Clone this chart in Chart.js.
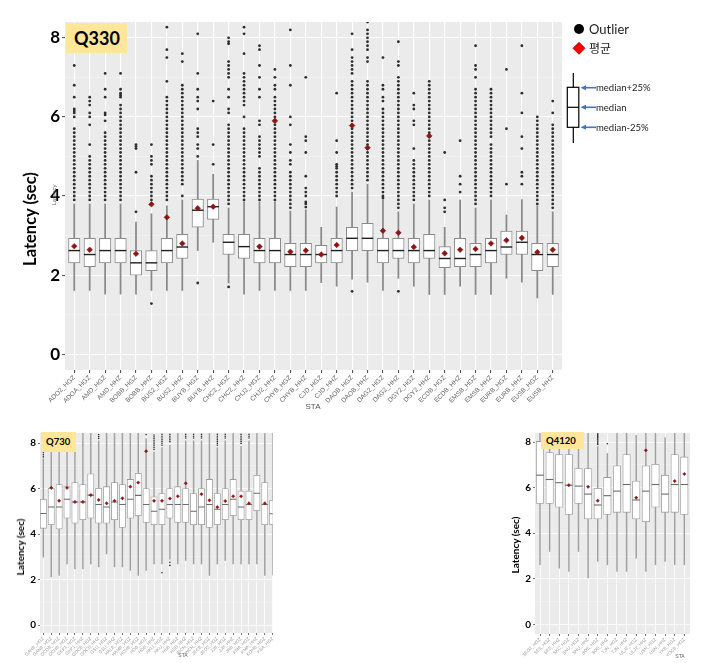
<!DOCTYPE html>
<html><head><meta charset="utf-8">
<script src="https://cdn.jsdelivr.net/npm/chart.js@4.4.1/dist/chart.umd.min.js"></script>
<style>
html,body{margin:0;padding:0;background:#fff;width:710px;height:663px;overflow:hidden;position:relative;font-family:'Liberation Sans',Arial,sans-serif}
canvas{position:absolute;display:block}
.t{position:absolute;white-space:nowrap;line-height:1}
.rot{transform:translate(-50%,-50%) rotate(-90deg)}
.ctr{transform:translate(-50%,-50%)}
.qbox{position:absolute;background:#FFE699;font-family:Lato,'Open Sans',sans-serif;font-weight:bold;color:#000;box-sizing:border-box}
svg{position:absolute;left:0;top:0}
</style></head><body>
<canvas id="c330" width="710" height="420" style="left:0;top:0;width:710px;height:420px"></canvas>
<canvas id="c730" width="285" height="238" style="left:0;top:425px;width:285px;height:238px"></canvas>
<canvas id="c4120" width="215" height="238" style="left:495px;top:425px;width:215px;height:238px"></canvas>

<div class="qbox" style="left:66px;top:23px;width:61px;height:30px;font-size:18px;line-height:30px;padding-left:8px">Q330</div>
<div class="t rot" style="left:30px;top:219px;font-family:Lato,sans-serif;font-weight:bold;font-size:16.5px;color:#000">Latency (sec)</div>
<div class="t rot" style="left:54px;top:195px;font-size:6px;color:#666">Latency</div>
<div class="t ctr" style="left:313px;top:407px;font-size:8px;color:#555">STA</div>

<div class="qbox" style="left:41px;top:432px;width:35px;height:20px;font-size:9.5px;line-height:20px;padding-left:5px">Q730</div>
<div class="t rot" style="left:20px;top:547px;font-family:Lato,sans-serif;font-weight:bold;font-size:10px;color:#000">Latency (sec)</div>
<div class="t ctr" style="left:183px;top:655px;font-size:5px;color:#666">STA</div>

<div class="qbox" style="left:541px;top:432px;width:43px;height:17px;font-size:9.5px;line-height:17px;padding-left:5px">Q4120</div>
<div class="t rot" style="left:515px;top:545px;font-family:Lato,sans-serif;font-weight:bold;font-size:10px;color:#000">Latency (sec)</div>
<div class="t ctr" style="left:680px;top:656px;font-size:5px;color:#666">STA</div>

<svg width="710" height="663" viewBox="0 0 710 663">
  <circle cx="579" cy="29" r="5" fill="#000"/>
  <text x="589" y="34" font-family="Lato, sans-serif" font-size="13" fill="#222">Outlier</text>
  <polygon points="579,42.3 585,48.3 579,54.3 573,48.3" fill="#ff0000" stroke="#8b0000" stroke-width="0.8"/>
  <text x="589" y="53" font-family="'Noto Sans CJK KR', sans-serif" font-size="12" fill="#222">평균</text>
  <line x1="573.3" y1="73" x2="573.3" y2="143" stroke="#000" stroke-width="1.2"/>
  <rect x="567.3" y="87.3" width="11.5" height="40" fill="#fff" stroke="#000" stroke-width="1.2"/>
  <line x1="567.3" y1="107.3" x2="578.8" y2="107.3" stroke="#000" stroke-width="1.2"/>
  <g stroke="#4472C4" stroke-width="1.6">
    <line x1="584" y1="87.7" x2="596" y2="87.7"/>
    <line x1="584" y1="107.3" x2="596" y2="107.3"/>
    <line x1="584" y1="127.3" x2="596" y2="127.3"/>
  </g>
  <g fill="#4472C4">
    <polygon points="580.5,87.7 586,85.2 586,90.2"/>
    <polygon points="580.5,107.3 586,104.8 586,109.8"/>
    <polygon points="580.5,127.3 586,124.8 586,129.8"/>
  </g>
  <g font-family="Lato, sans-serif" font-size="9.5" fill="#222">
    <text x="596" y="91">median+25%</text>
    <text x="596" y="110.6">median</text>
    <text x="596" y="130.6">median-25%</text>
  </g>
</svg>

<script>
// ---------------- Q330 ----------------
const labels330 = ['ADO2_HGZ','ADOA_HGZ','AMD_HGZ','AMD_HHZ','BOBB_HGZ','BOBB_HHZ','BUS2_HGZ','BUS2_HHZ','BUYB_HGZ','BUYB_HHZ','CHC2_HGZ','CHC2_HHZ','CHJ2_HGZ','CHJ2_HHZ','CHYB_HGZ','CHYB_HHZ','CJD_HGZ','CJD_HHZ','DAOB_HGZ','DAOB_HHZ','DAG2_HGZ','DAG2_HHZ','DGY2_HGZ','DGY2_HHZ','ECDB_HGZ','ECDB_HHZ','EMSB_HGZ','EMSB_HHZ','EURB_HGZ','EURB_HHZ','EUSB_HGZ','EUSB_HHZ'];
const q1_330 = [2.31,2.21,2.31,2.31,2.0,2.11,2.31,2.42,3.21,3.41,2.52,2.42,2.31,2.31,2.21,2.21,2.31,2.31,2.62,2.62,2.31,2.42,2.31,2.42,2.19,2.21,2.21,2.31,2.52,2.52,2.11,2.21];
const med330 = [2.62,2.52,2.62,2.62,2.31,2.31,2.62,2.71,3.64,3.73,2.83,2.72,2.62,2.62,2.52,2.52,2.52,2.62,2.93,2.93,2.62,2.62,2.62,2.62,2.42,2.42,2.52,2.62,2.71,2.83,2.52,2.52];
const q3_330 = [2.93,2.93,2.93,2.93,2.62,2.62,2.93,3.03,3.92,3.92,3.03,3.03,2.93,2.93,2.8,2.8,2.75,2.93,3.21,3.31,2.93,2.93,2.93,3.03,2.72,2.93,2.8,2.93,3.11,3.11,2.8,2.8];
const lo330 = [1.61,1.61,1.52,1.52,1.52,1.61,1.61,1.61,2.62,2.83,1.8,1.52,1.61,1.61,1.61,1.61,1.81,1.72,1.9,1.82,1.61,1.92,1.72,1.51,1.51,1.72,1.51,1.51,1.92,1.82,1.42,1.51];
const hi330 = [3.8,3.8,3.8,3.8,3.34,3.55,3.75,3.9,4.9,4.55,3.7,3.85,3.85,3.85,3.62,3.65,3.21,3.72,4.1,4.3,3.9,3.6,3.8,3.9,3.21,3.9,3.7,3.9,3.52,3.91,3.75,3.6];
const mean330 = [2.73,2.64,null,null,2.54,3.79,3.46,2.8,3.69,3.73,null,null,2.72,5.9,2.59,2.62,2.52,2.76,5.78,5.22,3.12,3.07,2.71,5.52,2.55,2.64,2.66,2.8,2.88,2.94,2.58,2.64];
const out330 = [
  [7.3,6.8,6.5,6.2,6.15,6.1,6.0,5.7,5.6,5.5,5.4,5.3,5.2,5.1,5.0,4.9,4.8,4.7,4.6,4.5,4.4,4.3,4.2,4.1,4.0,3.9],
  [6.5,6.4,6.3,6.1,6.0,5.8,5.3,5.0,4.9,4.8,4.7,4.6,4.5,4.4,4.3,4.2,4.1,4.0,3.9],
  [7.1,6.7,6.5,6.1,6.05,5.9,5.6,5.5,5.4,5.3,5.2,5.1,5.0,4.9,4.8,4.7,4.6,4.5,4.4,4.3,4.2,4.1,4.0,3.9],
  [7.1,6.7,6.6,6.55,6.5,6.3,6.2,6.1,6.0,5.9,5.8,5.7,5.6,5.5,5.4,5.3,5.2,5.1,5.0,4.9,4.8,4.7,4.6,4.5,4.4,4.3,4.2,4.1,4.0,3.9],
  [5.3,5.25,5.2,4.6,3.6],
  [5.3,5.0,4.9,4.8,4.5,4.4,4.3,4.2,4.1,4.0,3.9,1.28],
  [8.27,7.7,7.5,6.9,6.5,6.4,6.3,6.2,6.1,6.0,5.9,5.8,5.7,5.6,5.5,5.4,5.3,5.2,5.1,5.0,4.9,4.8,4.7,4.6,4.5,4.4,4.3,4.2,4.1,4.0,3.9],
  [7.6,7.4,6.8,6.7,6.6,6.5,6.4,6.3,6.2,6.1,6.0,5.9,5.8,5.7,5.6,5.5,5.4,5.3,5.2,5.1,5.0,4.9,4.8,4.7,4.6,4.5,4.4,4.3,4.0],
  [8.1,7.1,6.7,6.5,6.4,6.2,5.7,5.6,5.5,5.3,5.2,5.0,1.8],
  [6.4,5.3,4.8],
  [8.0,7.9,7.85,7.4,7.3,7.2,7.1,7.0,6.7,6.5,6.2,6.1,5.8,5.7,5.6,5.5,5.4,5.3,5.2,5.1,5.0,4.9,4.8,4.7,4.6,4.5,4.4,4.3,4.2,4.1,4.0,3.9,3.8,1.7],
  [8.27,8.1,7.6,7.1,7.0,6.9,6.8,6.7,6.6,6.5,6.4,6.3,6.0,5.7,5.6,5.5,5.4,5.3,5.2,5.1,5.0,4.9,4.8,4.7,4.6,4.5,4.4,4.3,4.2,4.1,4.0,3.9],
  [7.8,7.7,7.3,7.0,6.7,6.5,5.9,5.8,5.5,5.4,5.3,5.2,5.1,5.0,4.7,4.6,4.5,4.4,4.3,4.2,4.1,4.0,3.9],
  [7.2,7.0,6.8,6.7,6.5,6.4,6.3,6.2,6.1,6.0,5.9,5.8,5.7,5.6,5.5,5.4,5.3,5.2,5.1,5.0,4.9,4.8,4.7,4.6,4.5,4.4,4.3,4.2,4.1,4.0,3.9],
  [8.2,7.3,6.8,6.0,5.8,5.3,5.1,4.9,4.8,4.6,4.5,4.4,4.3,4.2,4.1,4.0,3.9,3.8,3.7],
  [7.0,5.5,5.4,5.1,4.5,4.2,4.1,4.0,3.85,3.8,3.72],
  [],
  [6.6,5.4,5.1,4.8,4.75,4.7,4.6,4.5,4.4,4.3,4.2,4.1,4.0],
  [8.1,7.7,7.5,7.4,7.3,7.2,7.1,6.9,6.8,6.7,6.6,6.5,6.4,6.3,6.2,6.1,6.0,5.9,5.8,5.7,5.6,5.5,5.4,5.3,5.2,5.1,5.0,4.9,4.8,4.7,4.6,4.5,4.4,4.3,4.2,1.59],
  [8.4,8.2,8.1,8.0,7.9,7.8,7.7,7.5,7.4,6.9,6.8,6.7,6.6,6.5,6.4,6.3,6.2,6.1,6.0,5.9,5.8,5.7,5.6,5.5,5.4,5.3,5.2,5.1,5.0,4.9,4.8,4.7,4.6,4.5,4.4],
  [7.5,6.8,6.7,6.5,6.4,6.2,6.1,6.0,5.9,5.8,5.7,5.6,5.5,5.4,5.3,5.2,5.1,5.0,4.9,4.8,4.7,4.6,4.5,4.4,4.3,4.2,4.1,4.0,3.95],
  [7.9,7.4,7.3,7.0,6.9,6.8,6.7,6.6,6.5,6.4,6.3,6.2,6.1,6.0,5.9,5.8,5.7,5.6,5.5,5.4,5.3,5.2,5.1,5.0,4.9,4.8,4.7,4.6,4.5,4.4,4.3,4.2,4.1,4.0,3.9,3.8,3.7,1.59],
  [6.6,6.3,6.2,5.9,5.8,5.2,4.9,4.8,4.7,4.6,4.5,4.4,4.3,4.2,4.1,4.0,3.9],
  [6.9,6.8,6.7,6.6,6.5,6.4,6.3,6.2,6.1,6.0,5.9,5.8,5.7,5.6,5.5,5.4,5.3,5.2,5.1,5.0,4.9,4.8,4.7,4.6,4.5,4.4,4.3,4.2,4.1,4.0],
  [5.1,3.9,3.7,3.6],
  [5.4,4.5,4.3,4.1],
  [7.8,7.3,7.2,7.0,6.7,6.6,6.5,6.4,6.3,6.2,6.1,6.0,5.9,5.8,5.7,5.6,5.5,5.4,5.3,5.2,5.1,5.0,4.9,4.8,4.7,4.6,4.5,4.4,4.3,4.2,4.1,4.0,3.9,3.8],
  [6.7,6.6,6.5,6.4,6.3,6.2,6.1,6.0,5.9,5.8,5.7,5.6,5.5,5.3,5.2,5.1,5.0,4.9,4.8,4.7,4.6,4.5,4.4,4.3,4.2,4.1,4.0],
  [7.2,5.7,4.3],
  [7.8,6.6,6.1,5.5,5.2,4.6,4.5,4.3],
  [6.0,5.9,5.8,5.7,5.6,5.5,5.4,5.3,5.2,5.1,5.0,4.9,4.8,4.7,4.6,4.5,4.4,4.3,4.2,4.1,4.0,3.9,3.8],
  [6.4,6.1,5.8,5.7,5.6,5.5,5.4,5.3,5.2,5.1,5.0,4.9,4.8,4.7,4.6,4.5,4.4,4.3,4.2,4.1,4.0,3.9,3.8,3.7]
];

// ---------------- Q730 ----------------
const labels730 = ['GAHB_HGZ','GANB_HGZ','GCDB_HGZ','GCHB_HGZ','GKP1_HGZ','GKP1_HHZ','GOCB_HGZ','GOCB_HHZ','GSU_HGZ','GSU_HHZ','HALB_HGZ','HAMB_HGZ','HCHB_HGZ','HDB_HGZ','HDB_HHZ','HKU_HGZ','HKU_HHZ','HSB_HGZ','HSB_HHZ','INCN_HGZ','INCN_HHZ','JECB_HGZ','JEO2_HGZ','JJB_HGZ','JJB_HHZ','JRB_HGZ','KMA_HGZ','KMA_HHZ','KOHB_HGZ','KSA_HGZ'];
const q1_730 = [4.25,4.41,4.22,4.70,4.48,4.63,4.70,4.48,4.48,4.63,4.29,4.70,4.80,4.51,4.41,4.41,4.70,4.51,4.51,4.41,4.41,4.29,4.41,4.63,4.80,4.63,4.63,5.02,4.41,4.41];
const med730 = [4.9,5.19,5.19,5.53,5.41,5.41,5.71,5.3,5.19,5.41,5.3,5.53,5.7,5.3,5.0,5.09,5.3,5.3,5.3,5.0,5.19,5.3,5.09,5.3,5.53,5.19,5.3,5.79,5.3,4.89];
const q3_730 = [5.53,6.01,6.17,6.11,6.26,6.17,6.65,6.01,6.08,6.26,6.17,6.4,6.67,6.0,5.64,5.78,6.0,6.08,6.0,5.78,6.0,6.4,5.78,6.0,6.4,5.89,5.89,6.58,6.26,5.48];
const lo730 = [2.98,2.11,2.18,2.69,2.47,2.47,2.69,2.55,3.13,2.55,2.55,2.4,2.18,2.4,2.69,2.69,2.9,2.69,2.84,2.69,2.69,2.18,2.69,2.84,2.69,2.69,2.69,2.69,2.18,2.2];
const hi730 = [7.3,8.6,8.6,8.6,8.6,8.6,8.6,8.1,8.6,8.6,8.6,8.6,8.6,8.2,7.6,7.8,7.9,8.6,8.1,8.1,8.1,8.6,7.8,8.1,8.6,7.85,8.1,8.6,8.6,8.6];
const mean730 = [null,6.03,5.46,6.03,5.41,5.41,5.71,5.5,5.35,5.46,5.57,6.08,6.26,7.64,5.46,5.46,5.56,5.66,6.23,null,5.75,5.48,5.18,5.45,5.66,5.66,5.35,null,5.35,null];
const out730 = [
  [7.57,7.48,7.39],[],[],[],[],[],[],[8.37,8.28,8.2],[],[],[],[],[],[8.37],
  [8.35,8.27,8.2,8.12,8.04,7.96,7.88,7.8,7.72],
  [8.38,8.3,8.22,8.14,8.06,7.98,7.9,2.3],
  [8.38,8.3,8.22,8.14,8.06,2.76,2.62],
  [],[8.38,8.3,8.22],[8.38,8.3,8.22],[8.38,8.3,8.22],[],
  [8.38,8.3,8.22,8.14,8.06,7.98,7.9],
  [8.38,8.3,8.22],[],
  [8.38,8.3,8.22,8.14,8.06,7.98],
  [8.38,8.3,8.22],[],[],[]
];

// ---------------- Q4120 ----------------
const labels4120 = ['SEO2_HGZ','SES_HGZ','SES_HHZ','SKC_HGZ','SNU_HGZ','SNU_HHZ','SOS_HGZ','SOS_HHZ','TJN_HGZ','TJN_HHZ','ULJ2_HGZ','ULJ2_HHZ','USN_HGZ','USN_HHZ','YKB_HGZ','YOCB_HGZ'];
const q1_4120 = [5.31,5.31,5.14,4.83,5.31,4.63,4.63,4.83,4.92,4.92,4.63,4.51,5.14,4.92,4.92,4.83];
const med4120 = [6.55,6.36,6.22,6.11,6.07,5.72,5.24,5.65,5.85,6.14,5.46,5.85,6.14,5.72,6.14,6.14];
const q3_4120 = [8.03,7.54,7.45,7.45,6.84,6.84,5.97,6.45,6.96,7.45,6.29,6.96,7.03,6.55,7.45,7.35];
const lo4120 = [2.62,3.2,2.47,2.33,3.2,2.04,2.76,2.62,2.33,2.33,2.91,2.33,2.62,2.76,2.62,2.62];
const hi4120 = [8.6,8.6,8.6,8.6,8.6,8.6,7.8,7.5,8.6,8.6,8.3,8.6,8.6,8.2,8.6,8.6];
const mean4120 = [null,null,null,6.11,null,6.04,5.43,null,null,null,5.56,7.64,null,null,6.29,6.6];
const out4120 = [[],[],[],[],[],[],[8.4,8.35,8.3,8.25,8.2,8.15,8.1,8.05,8.0,7.95,7.9],[7.93],[],[],[],[],[],[],[],[]];

const yTicks = [0,1,2,3,4,5,6,7,8];

const bgPlugin = {
  id: 'panelBg',
  beforeDraw(chart) {
    const a = chart.chartArea, c = chart.ctx;
    c.save(); c.fillStyle = '#EBEBEB';
    c.fillRect(a.left, a.top, a.right - a.left, a.bottom - a.top);
    c.restore();
  }
};

function boxChart(id, d, s) {
  const idx = d.labels.map((_, i) => i);
  const whisk = idx.map(i => ({x: i, y: [d.lo[i], d.hi[i]]}));
  const boxes = idx.map(i => ({x: i, y: [d.q1[i], d.q3[i]]}));
  const meds = idx.map(i => ({x: i, y: d.med[i]}));
  const means = idx.filter(i => d.mean[i] != null).map(i => ({x: i, y: d.mean[i]}));
  const outs = [];
  d.out.forEach((arr, i) => arr.forEach(v => outs.push({x: i, y: v})));
  new Chart(document.getElementById(id), {
    type: 'bar',
    data: { datasets: [
      {type: 'bar', data: whisk, backgroundColor: s.whisk, barThickness: s.whiskW, borderWidth: 0, grouped: false, order: 5},
      {type: 'bar', data: boxes, backgroundColor: '#ffffff', borderColor: s.boxBorder, borderWidth: s.boxBW, borderSkipped: false, barThickness: s.boxW, grouped: false, order: 4},
      {type: 'line', data: meds, showLine: false, pointStyle: 'line', pointRadius: s.boxW / 2, pointHoverRadius: s.boxW / 2, pointBorderColor: s.med, pointBorderWidth: s.medW, order: 3},
      {type: 'line', data: outs, showLine: false, pointStyle: 'circle', pointRadius: s.outR, pointBackgroundColor: '#2e2e2e', pointBorderWidth: 0, order: 2},
      {type: 'line', data: means, showLine: false, pointStyle: 'rectRot', pointRadius: s.meanR, pointBackgroundColor: '#8e1414', pointBorderColor: '#8e1414', pointBorderWidth: 0.6, order: 1}
    ]},
    options: {
      responsive: false, animation: false, events: [],
      layout: {padding: s.pad},
      plugins: {legend: {display: false}, tooltip: {enabled: false}},
      scales: {
        x: {
          type: 'linear', min: s.xmin, max: s.xmax, offset: false,
          afterBuildTicks: sc => { sc.ticks = idx.map(i => ({value: i})); },
          afterFit: sc => { sc.height = s.xH; },
          grid: {offset: false, color: '#ffffff', lineWidth: s.gridW, tickColor: '#555', tickLength: s.tickLen},
          border: {display: false},
          ticks: {autoSkip: false, minRotation: 45, maxRotation: 45, padding: 1,
            font: {family: "'Liberation Sans', Arial, sans-serif", size: s.xFont}, color: s.xColor,
            callback: v => d.labels[v] ?? ''}
        },
        y: {
          type: 'linear', min: s.ymin, max: s.ymax,
          afterBuildTicks: sc => { sc.ticks = yTicks.map(v => ({value: v})); },
          afterFit: sc => { sc.width = s.yW; },
          grid: {
            color: c => (c.tick && c.tick.value % 2 === 0) ? '#ffffff' : 'rgba(255,255,255,0.55)',
            lineWidth: c => (c.tick && c.tick.value % 2 === 0) ? s.gridW : s.gridW * 0.5,
            tickColor: c => (c.tick && c.tick.value % 2 === 0) ? '#555' : 'rgba(0,0,0,0)',
            tickLength: s.tickLen
          },
          border: {display: false},
          ticks: {padding: 2, color: '#000',
            font: {family: "Lato, 'Open Sans', sans-serif", weight: 'bold', size: s.yFont},
            callback: v => (v % 2 === 0) ? String(v) : ''}
        }
      }
    },
    plugins: [bgPlugin]
  });
}

boxChart('c330',
  {labels: labels330, q1: q1_330, med: med330, q3: q3_330, lo: lo330, hi: hi330, mean: mean330, out: out330},
  {pad: {top: 22, right: 148, left: 0, bottom: 0}, yW: 65, xH: 50, xmin: -0.6, xmax: 31.6, ymin: -0.4, ymax: 8.4,
   boxW: 11.5, boxBW: 1, whiskW: 1.1, whisk: '#8a8a8a', boxBorder: '#8a8a8a', med: '#1e1e1e', medW: 1.4,
   outR: 1.4, meanR: 2.8, gridW: 1.1, tickLen: 3, xFont: 6.5, xColor: '#666', yFont: 17});

boxChart('c730',
  {labels: labels730, q1: q1_730, med: med730, q3: q3_730, lo: lo730, hi: hi730, mean: mean730, out: out730},
  {pad: {top: 6.7, right: 12.3, left: 0, bottom: 0}, yW: 40, xH: 30, xmin: -0.42, xmax: 29.0, ymin: -0.35, ymax: 8.44,
   boxW: 6.3, boxBW: 0.8, whiskW: 0.8, whisk: '#a0a0a0', boxBorder: '#9a9a9a', med: '#6a6a6a', medW: 1.1,
   outR: 0.8, meanR: 1.6, gridW: 0.8, tickLen: 2, xFont: 4.5, xColor: '#999', yFont: 10});

boxChart('c4120',
  {labels: labels4120, q1: q1_4120, med: med4120, q3: q3_4120, lo: lo4120, hi: hi4120, mean: mean4120, out: out4120},
  {pad: {top: 6, right: 20, left: 0, bottom: 0}, yW: 40, xH: 29, xmin: -0.52, xmax: 15.59, ymin: -0.42, ymax: 8.4,
   boxW: 7.5, boxBW: 0.8, whiskW: 0.8, whisk: '#a0a0a0', boxBorder: '#9a9a9a', med: '#6a6a6a', medW: 1.1,
   outR: 0.8, meanR: 1.6, gridW: 0.8, tickLen: 2, xFont: 4.5, xColor: '#999', yFont: 10});
</script>
</body></html>
